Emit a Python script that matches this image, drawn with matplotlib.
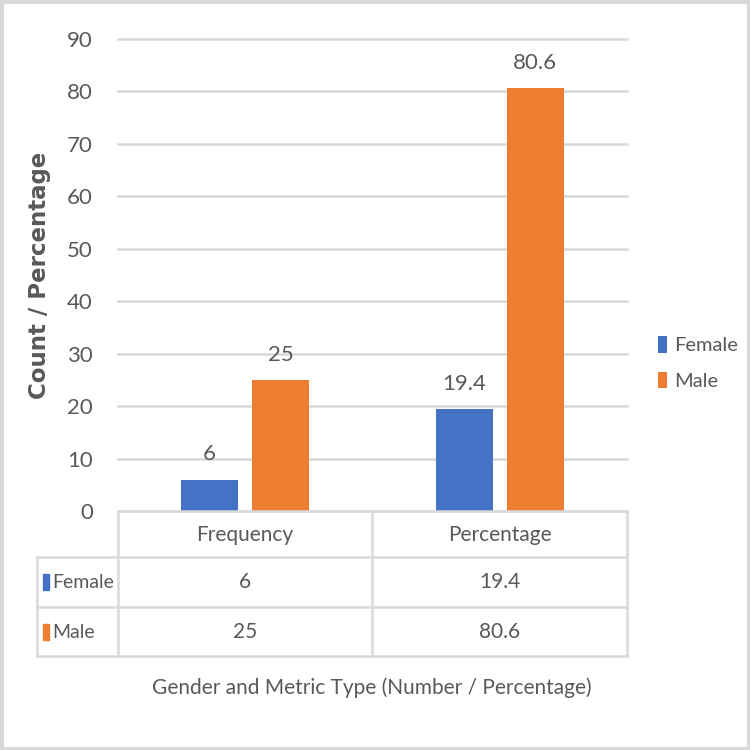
import matplotlib
matplotlib.use("Agg")
import matplotlib.pyplot as plt
from matplotlib.lines import Line2D
from matplotlib.patches import Rectangle
import numpy as np

categories = ["Frequency", "Percentage"]
series_names = ["Female", "Male"]
female = [6, 19.4]
male = [25, 80.6]
labels_female = ["6", "19.4"]
labels_male = ["25", "80.6"]
yticks = [0, 10, 20, 30, 40, 50, 60, 70, 80, 90]

colors = ["#4472C4", "#ED7D31"]
txt = "#595959"
grid = "#D9D9D9"
FONT = ["Lato", "DejaVu Sans"]
plt.rcParams['font.family'] = FONT

fig = plt.figure(figsize=(7.5, 7.5), dpi=100)
W = H = 750.0
def fx(px): return px / W
def fy(py): return 1 - py / H

# outer frame
fig.add_artist(Rectangle((0.002, 0.002), 0.996, 0.996, transform=fig.transFigure,
                         fill=False, edgecolor="#D9D9D9", linewidth=3))

ax = fig.add_axes([fx(118), fy(511), fx(627) - fx(118), fy(39) - fy(511)])
x = np.arange(len(categories))
bw = 0.224
off = 0.14
b1 = ax.bar(x - off, female, bw, color=colors[0], label=series_names[0], zorder=3)
b2 = ax.bar(x + off, male, bw, color=colors[1], label=series_names[1], zorder=3)
for bars, labs in ((b1, labels_female), (b2, labels_male)):
    for r, lab in zip(bars, labs):
        ax.annotate(lab, (r.get_x() + r.get_width() / 2, r.get_height()),
                    xytext=(0, 11), textcoords="offset points", ha="center", va="bottom",
                    fontsize=16, color=txt)
ax.set_xlim(-0.5, 1.5)
ax.set_ylim(0, 90)
ax.set_yticks(yticks)
ax.set_yticklabels([str(t) for t in yticks], fontsize=16, color=txt)
ax.tick_params(axis="y", length=0, pad=18)
ax.set_xticks([])
ax.grid(axis="y", color=grid, linewidth=1.8, zorder=0)
for gl in ax.get_ygridlines():
    gl.set_clip_on(False)
for s in ax.spines.values():
    s.set_visible(False)

ax.text(fx(40), fy(275), "Count / Percentage", transform=fig.transFigure, rotation=90,
        ha="center", va="center", fontsize=16.5, fontweight="bold", color=txt,
        family=["DejaVu Sans"])

# data table drawn as lines/text
def hline(y, x0, x1):
    fig.add_artist(Line2D([fx(x0), fx(x1)], [fy(y), fy(y)], color=grid, linewidth=1.8,
                          transform=fig.transFigure))
def vline(xp, y0, y1):
    fig.add_artist(Line2D([fx(xp), fx(xp)], [fy(y0), fy(y1)], color=grid, linewidth=1.8,
                          transform=fig.transFigure))

hline(511, 118, 627)
hline(557, 37, 627)
hline(607, 37, 627)
hline(656, 37, 627)
vline(118, 511, 656)
vline(372, 511, 656)
vline(627, 511, 656)
vline(37, 557, 656)

col_centers = [245, 499.5]
for cx, cat in zip(col_centers, categories):
    fig.text(fx(cx), fy(535), cat, ha="center", va="center", fontsize=15, color=txt)
rows_y = [582, 632]
for ry, name, col, vals in zip(rows_y, series_names, colors, (labels_female, labels_male)):
    fig.add_artist(Rectangle((fx(43), fy(ry + 8)), fx(6), fy(ry - 8) - fy(ry + 8),
                             transform=fig.transFigure, color=col))
    fig.text(fx(52), fy(ry), name, ha="left", va="center", fontsize=14, color=txt)
    for cx, v in zip(col_centers, vals):
        fig.text(fx(cx), fy(ry), v, ha="center", va="center", fontsize=15, color=txt)

fig.text(fx(372), fy(688), "Gender and Metric Type (Number / Percentage)",
         ha="center", va="center", fontsize=15, color=txt)

# legend
leg = fig.legend(handles=[b1, b2], labels=series_names, loc="center left",
                 bbox_to_anchor=(fx(658), fy(363)), frameon=False, fontsize=14.5,
                 handlelength=0.45, handleheight=0.9, handletextpad=0.35, labelspacing=0.85,
                 labelcolor=txt, borderaxespad=0, borderpad=0)

fig.savefig("out.png", dpi=100)
